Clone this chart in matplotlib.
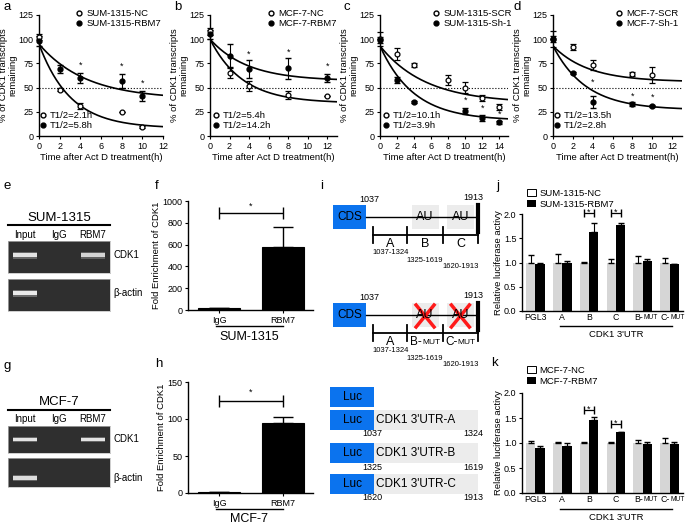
import numpy as np
import matplotlib.pyplot as plt
from matplotlib.lines import Line2D
from matplotlib.patches import Rectangle, Patch
from matplotlib.transforms import blended_transform_factory

plt.rcParams['font.family'] = ['Liberation Sans', 'DejaVu Sans']
plt.rcParams['axes.linewidth'] = 1.0
plt.rcParams['xtick.major.size'] = 2.5
plt.rcParams['ytick.major.size'] = 2.5
plt.rcParams['xtick.major.pad'] = 1.5
plt.rcParams['ytick.major.pad'] = 1.5

# ---- data: mRNA decay (a-d) ----
a_t = [0, 2, 4, 8, 10]
a_nc = [102, 48, 31, 25, 9]
a_nc_err = [3, 2, 3, 0, 1]
a_rbm = [98, 69, 60, 57, 41]
a_rbm_err = [5, 4, 5, 7, 5]
a_star_t = [4, 8, 10]
a_star_y = [73, 72, 54]
a_fits = [(95, 8, 0.33), (95, 38, 0.22)]  # y0, plateau, k

b_t = [0, 2, 4, 8, 12]
b_nc = [108, 65, 52, 42, 41]
b_nc_err = [4, 5, 5, 4, 0]
b_rbm = [105, 83, 69, 70, 60]
b_rbm_err = [5, 12, 9, 11, 4]
b_star_t = [4, 8, 12]
b_star_y = [84, 87, 72]
b_fits = [(100, 34, 0.30), (100, 57, 0.26)]

c_t_scr = [0, 2, 4, 8, 10, 12, 14]
c_scr = [100, 85, 73, 58, 50, 39, 30]
c_scr_err = [7, 6, 2, 5, 6, 3, 3]
c_t_sh = [0, 2, 4, 10, 12, 14]
c_sh = [99, 58, 35, 26, 19, 14]
c_sh_err = [3, 3, 1, 3, 3, 2]
c_star_t = [10, 12, 14]
c_star_y = [37, 29, 22]
c_fits = [(93, 34, 0.186), (93, 16, 0.253)]

d_t = [0, 2, 4, 8, 10]
d_scr = [100, 92, 73, 64, 63]
d_scr_err = [8, 3, 5, 2, 8]
d_sh = [100, 65, 35, 33, 31]
d_sh_err = [3, 1, 6, 2, 1]
d_star_t = [4, 8, 10]
d_star_y = [56, 41, 40]
d_fits = [(93, 56, 0.28), (93, 27, 0.30)]

# ---- data: RIP gels and enrichment (e-h) ----
lanes = ['Input', 'IgG', 'RBM7']
e_cdk1 = [0.9, 0.0, 0.8]
e_actin = [0.95, 0.0, 0.0]
g_cdk1 = [0.9, 0.0, 0.9]
g_actin = [0.85, 0.0, 0.0]
rip_groups = ['IgG', 'RBM7']
f_vals = [15, 580]
f_err = [5, 180]
h_vals = [1, 95]
h_err = [0.5, 8]

# ---- data: luciferase (j, k) ----
luc_groups = ['PGL3', 'A', 'B', 'C', 'B-MUT', 'C-MUT']
j_nc = [1.0, 1.0, 1.0, 1.0, 1.0, 1.0]
j_nc_err = [0.15, 0.18, 0.01, 0.07, 0.14, 0.10]
j_rbm = [0.97, 0.99, 1.62, 1.77, 1.04, 0.97]
j_rbm_err = [0.03, 0.05, 0.20, 0.05, 0.03, 0.0]
j_sig = [2, 3]
j_sig_y = [2.02, 2.02]
k_nc = [1.0, 1.0, 1.0, 1.0, 1.0, 1.0]
k_nc_err = [0.04, 0.03, 0.03, 0.03, 0.06, 0.10]
k_rbm = [0.91, 0.95, 1.47, 1.22, 0.98, 0.98]
k_rbm_err = [0.04, 0.05, 0.06, 0.01, 0.05, 0.05]
k_sig = [2, 3]
k_sig_y = [1.66, 1.38]

# ---- schematic (i) ----
utr_bounds = [1037, 1324, 1619, 1913]
seg_ranges = ['1037-1324', '1325-1619', '1620-1913']
luc_frag = [('A', 1037, 1324), ('B', 1325, 1619), ('C', 1620, 1913)]

W, H = 685, 524
fig = plt.figure(figsize=(W / 100, H / 100), dpi=100)


def px_axes(l, t, r, b):
    return fig.add_axes([l / W, 1 - b / H, (r - l) / W, (b - t) / H])


def ftext(x, y, s, **kw):
    fig.text(x / W, 1 - y / H, s, **kw)


def decay_panel(ax, xmax, t1, y1, e1, t2, y2, e2, fits, st, sy, names, halves, leg_xy, half_xy):
    tt = np.linspace(0, xmax, 200)
    for y0, p, k in fits:
        ax.plot(tt, (y0 - p) * np.exp(-k * tt) + p, color='black', lw=1.2)
    ax.axhline(50, color='black', ls=':', lw=0.8)
    ax.errorbar(t1, y1, yerr=e1, fmt='o', mfc='white', mec='black', mew=0.9, ms=3.5,
                ecolor='black', elinewidth=0.8, capsize=2, clip_on=False, zorder=3)
    ax.errorbar(t2, y2, yerr=e2, fmt='o', mfc='black', mec='black', ms=3.5,
                ecolor='black', elinewidth=0.8, capsize=2, clip_on=False, zorder=3)
    for x, y in zip(st, sy):
        ax.text(x, y, '*', ha='center', va='center', fontsize=6.5)
    ax.set_xlim(0, xmax)
    ax.set_ylim(0, 125)
    ax.set_yticks([0, 25, 50, 75, 100, 125])
    ax.set_xticks(np.arange(0, xmax + 0.1, 2))
    ax.tick_params(labelsize=6.5)
    for s in ['top', 'right']:
        ax.spines[s].set_visible(False)
    ax.set_ylabel('% of CDK1 transcripts\nremaining', fontsize=6.8, labelpad=1, linespacing=1.0)
    ax.set_xlabel('Time after Act D treatment(h)', fontsize=6.8, labelpad=2)
    ho = Line2D([], [], marker='o', ls='', mfc='white', mec='black', ms=3.5)
    hf = Line2D([], [], marker='o', ls='', mfc='black', mec='black', ms=3.5)
    leg = ax.legend([ho, hf], names, loc='upper left', bbox_to_anchor=(leg_xy[0] / W, 1 - leg_xy[1] / H),
                    bbox_transform=fig.transFigure, frameon=False, borderpad=0, borderaxespad=0,
                    handlelength=0.7, handletextpad=0.4, labelspacing=0.15, fontsize=6.8)
    ax.add_artist(leg)
    ax.legend([ho, hf], ['T1/2=%sh' % h for h in halves], loc='upper left',
              bbox_to_anchor=(half_xy[0] / W, 1 - half_xy[1] / H), bbox_transform=fig.transFigure,
              frameon=False, borderpad=0, borderaxespad=0, handlelength=0.7, handletextpad=0.3,
              labelspacing=0.15, fontsize=6.8)


ax = px_axes(39, 15, 163, 136)
decay_panel(ax, 12, a_t, a_nc, a_nc_err, a_t, a_rbm, a_rbm_err, a_fits, a_star_t, a_star_y,
            ['SUM-1315-NC', 'SUM-1315-RBM7'], ['2.1', '5.8'], (76, 9), (40, 111))
ax = px_axes(210, 15, 337, 136)
decay_panel(ax, 13, b_t, b_nc, b_nc_err, b_t, b_rbm, b_rbm_err, b_fits, b_star_t, b_star_y,
            ['MCF-7-NC', 'MCF-7-RBM7'], ['5.4', '14.2'], (268, 9), (213, 111))
ax = px_axes(380, 15, 508, 136)
decay_panel(ax, 15, c_t_scr, c_scr, c_scr_err, c_t_sh, c_sh, c_sh_err, c_fits, c_star_t, c_star_y,
            ['SUM-1315-SCR', 'SUM-1315-Sh-1'], ['10.1', '3.9'], (433, 9), (383, 111))
ax.set_xticks(np.arange(0, 15, 2))
ax = px_axes(553, 15, 682, 136)
decay_panel(ax, 13, d_t, d_scr, d_scr_err, d_t, d_sh, d_sh_err, d_fits, d_star_t, d_star_y,
            ['MCF-7-SCR', 'MCF-7-Sh-1'], ['13.5', '2.8'], (616, 9), (554, 111))
ax.set_xticks(np.arange(0, 13, 2))


# ---- gels ----
def gel(box, bands, band_y, side_label, title=None, fr=None):
    ax = px_axes(*box)
    ax.set_facecolor('#2f2f2f')
    x = np.arange(len(bands))
    for xi, b in zip(x, bands):
        if b > 0:
            ax.bar(xi, 0.22, bottom=band_y - 0.11, width=0.72, color='white', alpha=b * 0.3)
            ax.bar(xi, 0.12, bottom=band_y - 0.06, width=0.68, color='#f2f2f2', alpha=b)
    ax.set_xlim(-0.5, len(bands) - 0.5)
    ax.set_ylim(1, 0)
    ax.set_xticks([])
    ax.set_yticks([])
    for s in ax.spines.values():
        s.set_color('#bbbbbb')
        s.set_linewidth(0.5)
    ax.text(1.03, 1 - band_y, side_label, transform=ax.transAxes, fontsize=7, va='center')
    if title is not None:
        tr = blended_transform_factory(ax.transData, ax.transAxes)
        for xi, name in zip(x, lanes):
            ax.text(xi, fr[0], name, transform=tr, ha='center', va='center', fontsize=7)
        ax.plot([0, 1], [fr[1], fr[1]], transform=ax.transAxes, color='black', lw=1.5, clip_on=False)
        ax.text(0.5, fr[2], title, transform=ax.transAxes, ha='center', va='center', fontsize=9.5)


gel((8, 241, 110, 273), e_cdk1, 0.44, 'CDK1', 'SUM-1315', (1.19, 1.5, 1.72))
gel((8, 279, 110, 311), e_actin, 0.44, 'β-actin')
gel((8, 426, 110, 453), g_cdk1, 0.5, 'CDK1', 'MCF-7', (1.26, 1.59, 1.89))
gel((8, 458, 110, 487), g_actin, 0.69, 'β-actin')


# ---- enrichment bars ----
def enrich(box, vals, errs, ymax, step, sig_y, star_y, cell, line_y, text_y):
    ax = px_axes(*box)
    x = np.arange(len(vals))
    ax.bar(x, vals, width=0.67, color='black', edgecolor='black', lw=0.8)
    ax.errorbar(x, vals, yerr=[np.zeros(len(errs)), errs], fmt='none', ecolor='black',
                elinewidth=1, capsize=7, capthick=1)
    ax.errorbar(0.5, sig_y, xerr=0.5, fmt='none', ecolor='black', elinewidth=1, capsize=4, capthick=1)
    ax.text(0.5, star_y, '*', ha='center', va='center', fontsize=6.5)
    ax.set_xlim(-0.484, 1.469)
    ax.set_ylim(0, ymax)
    ax.set_yticks(np.arange(0, ymax + 1, step))
    ax.set_xticks(x)
    ax.set_xticklabels(rip_groups)
    ax.tick_params(labelsize=6.5)
    for s in ['top', 'right']:
        ax.spines[s].set_visible(False)
    ax.set_ylabel('Fold Enrichment of CDK1', fontsize=6.8, labelpad=1)
    tr = blended_transform_factory(ax.transData, ax.transAxes)
    ax.plot([-0.05, 1.0], [line_y, line_y], transform=tr, color='black', lw=1, clip_on=False)
    ax.text(0.47, text_y, cell, transform=tr, ha='center', va='center', fontsize=9)


enrich((188, 201, 313, 310), f_vals, f_err, 1000, 200, 890, 950, 'SUM-1315', -0.147, -0.25)
enrich((188, 382, 313, 493), h_vals, h_err, 150, 50, 124, 136, 'MCF-7', -0.144, -0.23)


# ---- luciferase bars ----
def luci(box, nc, nce, rbm, rbme, sig, sig_y, names, leg_xy, line_y, text_y):
    ax = px_axes(*box)
    x = np.arange(len(luc_groups))
    w = 0.35
    ax.bar(x - w / 2, nc, width=w, color='#d6d6d6')
    ax.bar(x + w / 2, rbm, width=w, color='black')
    ax.errorbar(x - w / 2, nc, yerr=[np.zeros(len(nce)), nce], fmt='none', ecolor='black',
                elinewidth=0.8, capsize=2.5)
    ax.errorbar(x + w / 2, rbm, yerr=[np.zeros(len(rbme)), rbme], fmt='none', ecolor='black',
                elinewidth=0.8, capsize=2.5)
    for g, y in zip(sig, sig_y):
        ax.errorbar(g, y, xerr=w / 2, fmt='none', ecolor='black', elinewidth=0.9, capsize=3, clip_on=False)
        ax.text(g, y + 0.02, '*', ha='center', va='center', fontsize=6.5)
    ax.set_xlim(-0.5, 5.5)
    ax.set_ylim(0, 2.0)
    ax.set_yticks([0, 0.5, 1.0, 1.5, 2.0])
    ax.set_yticklabels(['0.0', '0.5', '1.0', '1.5', '2.0'])
    ax.set_xticks(x)
    # the "-MUT" suffix is set in a smaller size, so those two labels are drawn by hand
    ax.set_xticklabels([n if '-' not in n else '' for n in luc_groups])
    for xi, n in zip(x, luc_groups):
        if '-' in n:
            head, tail = n.split('-')
            ax.annotate(head + '-', xy=(xi + 0.02, 0), xycoords=('data', 'axes fraction'),
                        xytext=(0, -1.5), textcoords='offset points', ha='right', va='top', fontsize=6.3)
            ax.annotate(tail, xy=(xi + 0.02, 0), xycoords=('data', 'axes fraction'),
                        xytext=(0, -2.3), textcoords='offset points', ha='left', va='top', fontsize=4.8)
    ax.tick_params(axis='x', length=0, labelsize=6.3)
    ax.tick_params(axis='y', labelsize=6.5)
    for s in ['top', 'right']:
        ax.spines[s].set_visible(False)
    ax.set_ylabel('Relative luciferase activy', fontsize=6.8, labelpad=1)
    tr = blended_transform_factory(ax.transData, ax.transAxes)
    ax.plot([0.9, 5.1], [line_y, line_y], transform=tr, color='black', lw=1, clip_on=False)
    ax.text(3.0, text_y, "CDK1 3'UTR", transform=tr, ha='center', va='center', fontsize=6.8)
    handles = [Patch(facecolor='white', edgecolor='black', lw=0.7), Patch(facecolor='black')]
    ax.legend(handles, names, loc='upper left', bbox_to_anchor=(leg_xy[0] / W, 1 - leg_xy[1] / H),
              bbox_transform=fig.transFigure, frameon=False, borderpad=0, borderaxespad=0,
              handlelength=1.0, handleheight=0.7, handletextpad=0.3, labelspacing=0.2, fontsize=6.8)


luci((522, 214, 683, 311), j_nc, j_nc_err, j_rbm, j_rbm_err, j_sig, j_sig_y,
     ['SUM-1315-NC', 'SUM-1315-RBM7'], (527, 189), -0.155, -0.247)
luci((522, 393, 683, 493), k_nc, k_nc_err, k_rbm, k_rbm_err, k_sig, k_sig_y,
     ['MCF-7-NC', 'MCF-7-RBM7'], (527, 366), -0.16, -0.25)

# ---- schematic (i) ----
ax = px_axes(325, 185, 500, 515)
ax.set_xlim(325, 500)
ax.set_ylim(515, 185)
ax.axis('off')
blue = '#0b73ee'


def nt2px(n):
    return 373 + (n - 1037) * 105 / 876


def utr_map(y0, mutated):
    xs = [nt2px(n) for n in utr_bounds]
    ax.text(xs[0] - 4, y0, str(utr_bounds[0]), ha='center', va='center', fontsize=6.5)
    ax.text(xs[-1] - 5, y0 - 1, str(utr_bounds[-1]), ha='center', va='center', fontsize=6.5)
    ax.add_patch(Rectangle((333, y0 + 6), 33, 24, color=blue, lw=0))
    ax.text(349.5, y0 + 18, 'CDS', ha='center', va='center', fontsize=8.5)
    ax.plot([366, xs[-1]], [y0 + 18, y0 + 18], color='black', lw=1)
    for i in (1, 2):
        cx = (xs[i] + xs[i + 1]) / 2
        ax.add_patch(Rectangle((cx - 13.5, y0 + 6), 27, 24, color='#ececec', lw=0))
        ax.text(cx, y0 + 18, 'AU', ha='center', va='center', fontsize=9)
        if mutated:
            ax.plot([cx - 9, cx + 9], [y0 + 8, y0 + 30], color='#ff1a1a', lw=2.5)
            ax.plot([cx - 9, cx + 9], [y0 + 30, y0 + 8], color='#ff1a1a', lw=2.5)
    ax.plot([xs[-1], xs[-1]], [y0 + 6, y0 + 33], color='black', lw=3)
    ax.plot([xs[0], xs[-1]], [y0 + 36, y0 + 36], color='black', lw=1.3)
    for xb in xs:
        ax.plot([xb, xb], [y0 + 28, y0 + 44], color='black', lw=1.3)
    names = ['A', 'B', 'C']
    for i in range(3):
        cx = (xs[i] + xs[i + 1]) / 2
        if mutated and i > 0:
            ax.text(cx - 3, y0 + 45, names[i] + '-', ha='right', va='center', fontsize=8.5)
            ax.text(cx - 3, y0 + 46, 'MUT', ha='left', va='center', fontsize=6)
        else:
            ax.text(cx, y0 + 45, names[i], ha='center', va='center', fontsize=9)
        ax.text(cx, y0 + 53 + [0, 9, 14][i], seg_ranges[i], ha='center', va='center', fontsize=5.5)


utr_map(199, False)
utr_map(297, True)

ax.add_patch(Rectangle((330, 387), 44, 20, color=blue, lw=0))
ax.text(352, 397, 'Luc', ha='center', va='center', fontsize=8.5)
for top, (name, s, e) in zip([410, 443, 474], luc_frag):
    ax.add_patch(Rectangle((373, top), nt2px(utr_bounds[-1]) - 373, 20, color='#ececec', lw=0))
    ax.add_patch(Rectangle((330, top), 44, 20, color=blue, lw=0))
    ax.text(352, top + 10, 'Luc', ha='center', va='center', fontsize=8.5)
    ax.text(376, top + 10, "CDK1 3'UTR-" + name, ha='left', va='center', fontsize=8.5)
    ax.text(372, top + 24, str(s), ha='center', va='center', fontsize=6.5)
    ax.text(473, top + 24, str(e), ha='center', va='center', fontsize=6.5)

# panel letters
for letter, x, y in [('a', 3, 7), ('b', 174, 7), ('c', 343, 7), ('d', 513, 7),
                     ('e', 3, 186), ('f', 155, 186), ('i', 320, 186), ('j', 496, 186),
                     ('g', 3, 366), ('h', 155, 364), ('k', 491, 363)]:
    ftext(x, y, letter, fontsize=9.5, va='center', ha='left')

fig.savefig('out.png', dpi=100)
